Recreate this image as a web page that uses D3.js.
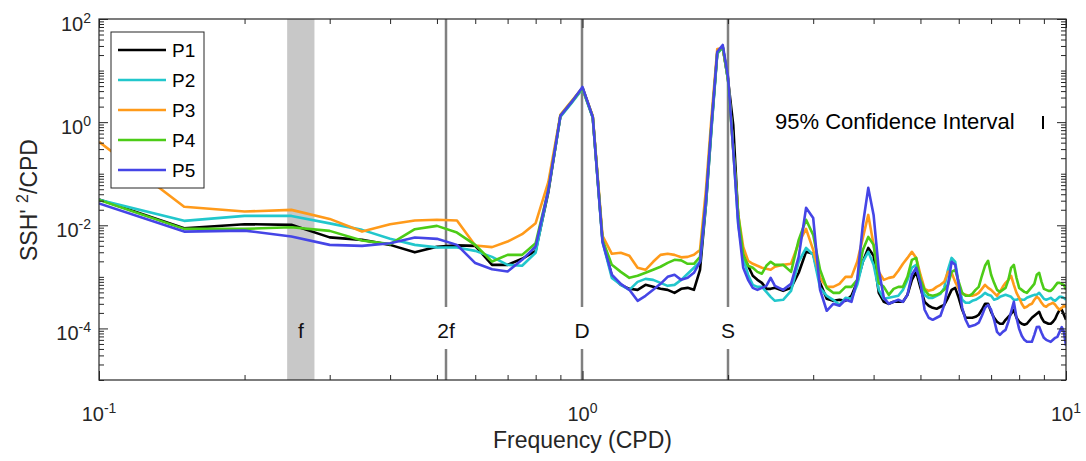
<!DOCTYPE html>
<html><head><meta charset="utf-8">
<script src="https://cdn.jsdelivr.net/npm/d3@7"></script>
<style>body{margin:0;background:#fff}svg{display:block}</style>
</head><body>
<svg id="c" width="1086" height="461"></svg>
<script>
// ---------------- DATA ----------------
const freqs = [0.1,0.15,0.2,0.25,0.3,0.35,0.4,0.45,0.5,0.55,0.6,0.65,0.7,0.75,0.8,0.85,0.9,0.95,1.0,1.05,
1.1,1.15,1.2,1.25,1.3,1.35,1.4,1.45,1.5,1.55,1.6,1.65,1.7,1.75,1.8,1.85,1.9,1.95,2.0,2.05,
2.1,2.15,2.2,2.25,2.3,2.35,2.4,2.45,2.5,
2.6,2.7,2.8,2.9,3.0,3.1,3.2,3.3,3.4,3.5,3.6,3.7,3.8,3.9,4.0,4.1,4.2,4.3,4.4,4.5,
4.6,4.7,4.8,4.9,5.0,5.1,5.2,5.3,5.4,5.5,5.6,5.7,5.8,5.9,6.0,6.1,6.2,6.3,6.4,6.5,
6.6,6.7,6.8,6.9,7.0,7.1,7.2,7.3,7.4,7.5,7.6,7.7,7.8,7.9,8.0,8.1,8.2,8.3,8.4,8.5,
8.6,8.7,8.8,8.9,9.0,9.1,9.2,9.3,9.4,9.5,9.6,9.7,9.8,9.9,10.0];

const p1 = [0.0318,0.00878,0.0105,0.0102,0.00583,0.00522,0.00417,0.00299,0.00382,0.00408,
0.00399,0.00171,0.00171,0.00224,0.00319,0.0444,1.32,2.47,4.6,1.26,
0.00522,0.00105,0.0007,0.000586,0.00056,0.0007,0.00064,0.000586,0.00056,0.00049,
0.000586,0.000612,0.00056,0.00137,0.025,0.883,22,28.7,6.57,0.883,
0.0128,0.00267,0.00164,0.00105,0.000875,0.000765,0.000586,0.000586,0.000612,
0.000536,0.000612,0.0012,0.00306,0.0028,0.000765,0.000375,0.000343,0.000359,0.000343,
0.000429,0.0008,0.00196,0.00365,0.00256,0.00049,0.000328,0.0003,0.000328,0.000328,
0.000328,0.000448,0.000875,0.00125,0.000612,0.000328,0.000275,0.000251,0.00024,0.000263,
0.000287,0.000392,0.00056,0.000612,0.000392,0.00023,0.000161,0.000161,0.000161,0.000168,
0.000184,0.00023,0.0003,0.0003,0.00021,0.000161,0.000135,0.000123,0.000123,0.000147,
0.000168,0.000192,0.00023,0.000161,0.000135,0.000123,0.000118,0.000123,0.000141,0.000161,
0.000176,0.000192,0.00021,0.000161,0.000135,0.000129,0.000123,0.000123,0.000135,0.000154,
0.000192,0.00023,0.00023,0.000184,0.000147];

const p2 = [0.0311,0.0122,0.0152,0.0152,0.0109,0.00815,0.00546,0.00417,0.00373,0.0037,
0.00319,0.00244,0.00171,0.00164,0.00294,0.0486,1.26,2.36,4.4,1.21,
0.00477,0.000956,0.0007,0.00056,0.0008,0.000915,0.000875,0.000765,0.00067,0.0007,
0.000875,0.00115,0.0015,0.00196,0.025,0.807,21,28.7,6.57,0.29,
0.0102,0.00233,0.0011,0.0007,0.00064,0.00064,0.000512,0.00041,0.000343,
0.000359,0.000536,0.00196,0.00365,0.00267,0.000612,0.000429,0.000359,0.000287,0.000392,
0.000375,0.0007,0.00196,0.00306,0.00171,0.00056,0.000375,0.000392,0.00041,0.000429,
0.00056,0.000875,0.0015,0.00171,0.000732,0.000448,0.000392,0.000392,0.000429,0.000469,
0.000612,0.00137,0.00233,0.00196,0.0007,0.000359,0.000314,0.000314,0.000343,0.000359,
0.000392,0.000429,0.00049,0.000448,0.000429,0.000359,0.000375,0.00041,0.000429,0.000448,
0.000429,0.00041,0.000359,0.000359,0.000375,0.000359,0.000359,0.000392,0.00041,0.000429,
0.000448,0.000448,0.00049,0.000429,0.000375,0.000359,0.000375,0.000392,0.000359,0.000343,
0.000375,0.00041,0.00041,0.000392,0.000359];

const p3 = [0.414,0.0228,0.0185,0.0199,0.0133,0.00755,0.0105,0.0124,0.0128,0.0124,
0.00405,0.00377,0.00484,0.00672,0.011,0.0694,1.38,2.58,4.6,1.32,
0.00623,0.0028,0.00294,0.00256,0.0015,0.00137,0.00196,0.00267,0.0028,0.00267,
0.00239,0.00244,0.00267,0.00333,0.0486,1.38,26.3,27.5,7.19,0.29,
0.0159,0.00382,0.00205,0.00179,0.00164,0.0015,0.00143,0.00137,0.00157,
0.00171,0.00179,0.00456,0.00852,0.00333,0.000956,0.00064,0.00064,0.000732,0.001,
0.001,0.00196,0.0057,0.0159,0.00417,0.00125,0.000875,0.000956,0.001,0.00131,
0.00179,0.00233,0.00306,0.00233,0.0011,0.000586,0.000536,0.00056,0.00064,0.0007,
0.0008,0.00125,0.0012,0.0008,0.000586,0.000469,0.000448,0.000429,0.000429,0.000448,
0.00049,0.000586,0.0007,0.000612,0.00056,0.00049,0.000429,0.000512,0.00064,0.000765,
0.000875,0.00105,0.0007,0.00049,0.000392,0.0003,0.000251,0.000263,0.000287,0.0003,
0.000359,0.00041,0.000375,0.000314,0.000275,0.000263,0.000287,0.0003,0.000314,0.000287,
0.000251,0.00023,0.000251,0.000275,0.000263];

const p4 = [0.0311,0.00852,0.00852,0.00919,0.00779,0.00506,0.00431,0.0084,0.00974,0.00722,
0.00417,0.00198,0.00267,0.00267,0.0045,0.0486,1.32,2.47,4.6,1.26,
0.00522,0.00171,0.00125,0.000956,0.00105,0.0012,0.00137,0.00157,0.00187,0.00214,
0.00209,0.00179,0.00179,0.00244,0.0311,1.01,22,28.7,6.87,0.317,
0.0159,0.00267,0.00164,0.0015,0.00125,0.00115,0.00164,0.00196,0.00171,
0.00171,0.00125,0.00522,0.0128,0.00652,0.00137,0.000612,0.00049,0.00049,0.00064,
0.00064,0.000875,0.00333,0.00596,0.00417,0.000765,0.00064,0.000448,0.000586,0.00064,
0.00064,0.001,0.00214,0.00233,0.000875,0.00056,0.000448,0.000429,0.000448,0.00049,
0.00056,0.0007,0.00125,0.00137,0.0008,0.00049,0.000429,0.000429,0.000469,0.00056,
0.00064,0.00105,0.00164,0.00205,0.0011,0.000765,0.00056,0.000512,0.00056,0.000612,
0.000875,0.0015,0.00171,0.000956,0.000612,0.00056,0.000512,0.00049,0.00056,0.00064,
0.000732,0.0011,0.0012,0.0008,0.000586,0.00056,0.000536,0.000536,0.000586,0.00067,
0.000765,0.000765,0.000732,0.0007,0.00056];

const p5 = [0.0266,0.00755,0.00789,0.00604,0.00417,0.00399,0.0045,0.00578,0.00546,0.00417,
0.00185,0.00141,0.00127,0.00214,0.00387,0.0486,1.32,2.47,4.81,1.26,
0.00477,0.0011,0.000732,0.00056,0.000343,0.000429,0.00056,0.000732,0.001,0.0011,
0.000875,0.000956,0.0012,0.00196,0.0311,1.01,23,31.4,7.51,0.29,
0.0102,0.0015,0.000875,0.000612,0.00056,0.000612,0.00067,0.000956,0.00067,
0.00056,0.000732,0.00244,0.0218,0.0139,0.00056,0.00022,0.0003,0.000275,0.000359,
0.000328,0.000875,0.0102,0.0531,0.0159,0.00137,0.000392,0.0003,0.000328,0.000359,
0.000328,0.000448,0.0011,0.0015,0.000765,0.00023,0.000161,0.000147,0.000161,0.000176,
0.000287,0.0007,0.00196,0.00171,0.0007,0.000251,0.000147,0.000108,0.000113,0.000118,
0.000129,0.000176,0.000251,0.000287,0.00023,0.000147,0.0000858,0.0000751,0.0000858,0.0000939,
0.000135,0.00021,0.000328,0.000161,0.0000982,0.0000719,0.0000601,0.000055,0.000055,0.000055,
0.0000751,0.000106,0.000108,0.0000822,0.0000657,0.0000601,0.0000575,0.000055,0.0000601,0.0000657,
0.0000687,0.0000858,0.000106,0.0000858,0.000046];

const seriesNames = ["P1","P2","P3","P4","P5"];
const seriesColors = ["#000000","#22c7cc","#ff9a1a","#4ccc17","#4545e6"];
const seriesValues = [p1,p2,p3,p4,p5];

const fBand = [0.245, 0.279];          // inertial band
const fLabel = "f";
const markerFreqs = [0.522, 1.0, 2.0]; // 2f, D, S
const markerLabels = ["2f","D","S"];
const xMajorTicks = [0.1, 1, 10];
const yMajorTicks = [1e-4, 1e-2, 1, 1e2];
const ciText = "95% Confidence Interval";

// ---------------- DRAW ----------------
const svg = d3.select("#c");
const X0 = 99, X1 = 1066, Y0 = 19, Y1 = 380;
const x = d3.scaleLog().domain([0.1, 10]).range([X0, X1]);
const y = d3.scaleLog().domain([1e-5, 1e2]).range([Y1, Y0]);
const AX = "#262626";
const FONT = "'Liberation Sans', Arial, Helvetica, sans-serif";

svg.append("rect").attr("width",1086).attr("height",461).attr("fill","#fff");

// inertial band
svg.append("rect")
  .attr("x", x(fBand[0])).attr("y", Y0)
  .attr("width", x(fBand[1]) - x(fBand[0])).attr("height", Y1 - Y0)
  .attr("fill", "#c8c8c8");

// marker lines with gap for labels
const gapTop = 307, gapBot = 349, labY = 338;
markerFreqs.forEach((f, i) => {
  const xx = Math.round(x(f));
  svg.append("line").attr("x1",xx).attr("x2",xx).attr("y1",Y0).attr("y2",gapTop)
    .attr("stroke","#808080").attr("stroke-width",2.5);
  svg.append("line").attr("x1",xx).attr("x2",xx).attr("y1",gapBot).attr("y2",Y1)
    .attr("stroke","#808080").attr("stroke-width",2.5);
  svg.append("text").attr("x",xx).attr("y",labY).attr("text-anchor","middle")
    .attr("font-family",FONT).attr("font-size",21).attr("fill","#111").text(markerLabels[i]);
});
svg.append("text").attr("x", x(Math.sqrt(fBand[0]*fBand[1]))).attr("y",labY)
  .attr("text-anchor","middle").attr("font-family",FONT).attr("font-size",21).attr("fill","#111").text(fLabel);

// clip
svg.append("clipPath").attr("id","clip").append("rect")
  .attr("x",X0).attr("y",Y0).attr("width",X1-X0).attr("height",Y1-Y0);

const line = d3.line().x((d,i)=>x(freqs[i])).y(d=>y(d));
const g = svg.append("g").attr("clip-path","url(#clip)");
seriesValues.forEach((vals, k) => {
  g.append("path").datum(vals).attr("d", line)
    .attr("fill","none").attr("stroke",seriesColors[k]).attr("stroke-width",2.6)
    .attr("stroke-linejoin","round");
});

// axes: minor and major ticks, inside
function mkAxis(axisFn, scale, vals, size, tx, ty) {
  const a = axisFn(scale).tickValues(vals).tickSize(-size).tickFormat("");
  const gg = svg.append("g").attr("transform",`translate(${tx},${ty})`).call(a);
  gg.select(".domain").remove();
  gg.selectAll("line").attr("stroke",AX).attr("stroke-width",1);
  return gg;
}
const xMinor = x.ticks().filter(v => !xMajorTicks.some(m => Math.abs(m - v) < 1e-9));
const yAll = y.ticks();
const yMinor = yAll.filter(v => !yMajorTicks.some(m => Math.abs(m/v - 1) < 1e-6));
mkAxis(d3.axisBottom, x, xMinor, 5, 0, Y1);
mkAxis(d3.axisTop, x, xMinor, 5, 0, Y0);
mkAxis(d3.axisBottom, x, xMajorTicks, 9, 0, Y1);
mkAxis(d3.axisTop, x, xMajorTicks, 9, 0, Y0);
mkAxis(d3.axisLeft, y, yMinor, 5, X0, 0);
mkAxis(d3.axisRight, y, yMinor, 5, X1, 0);
mkAxis(d3.axisLeft, y, yMajorTicks, 9, X0, 0);
mkAxis(d3.axisRight, y, yMajorTicks, 9, X1, 0);

// box
svg.append("rect").attr("x",X0).attr("y",Y0).attr("width",X1-X0).attr("height",Y1-Y0)
  .attr("fill","none").attr("stroke",AX).attr("stroke-width",1.2);

// tick labels
function expLabel(sel, v) {
  const e = Math.round(Math.log10(v));
  sel.append("tspan").text("10");
  sel.append("tspan").attr("dy",-8).attr("font-size",14).text(String(e));
}
xMajorTicks.forEach(v => {
  const t = svg.append("text").attr("x", x(v)).attr("y", 421).attr("text-anchor","middle")
    .attr("font-family",FONT).attr("font-size",20).attr("fill",AX);
  expLabel(t, v);
});
yMajorTicks.forEach(v => {
  const t = svg.append("text").attr("x", 91).attr("y", y(v) + 12).attr("text-anchor","end")
    .attr("font-family",FONT).attr("font-size",20).attr("fill",AX);
  expLabel(t, v);
});

// axis labels
svg.append("text").attr("x", x(1)).attr("y", 448).attr("text-anchor","middle")
  .attr("font-family",FONT).attr("font-size",23).attr("fill",AX).text("Frequency (CPD)");
const yl = svg.append("text").attr("transform","translate(37,200) rotate(-90)")
  .attr("text-anchor","middle").attr("font-family",FONT).attr("font-size",23).attr("fill",AX);
yl.append("tspan").text("SSH' ");
yl.append("tspan").attr("dy",-9).attr("font-size",16).text("2");
yl.append("tspan").attr("dy",9).text("/CPD");

// confidence interval
svg.append("text").attr("x",775).attr("y",129).attr("font-family",FONT).attr("font-size",22)
  .attr("fill","#000").text(ciText);
svg.append("line").attr("x1",1043).attr("x2",1043).attr("y1",116).attr("y2",129)
  .attr("stroke","#000").attr("stroke-width",2);

// legend
const lg = svg.append("g");
lg.append("rect").attr("x",111).attr("y",32).attr("width",93).attr("height",156)
  .attr("fill","#fff").attr("stroke",AX).attr("stroke-width",1);
seriesNames.forEach((n, i) => {
  const yy = 50 + i * 30;
  lg.append("line").attr("x1",118).attr("x2",166).attr("y1",yy).attr("y2",yy)
    .attr("stroke",seriesColors[i]).attr("stroke-width",2.6);
  lg.append("text").attr("x",172).attr("y",yy+7).attr("font-family",FONT).attr("font-size",19)
    .attr("fill","#000").text(n);
});
</script>
</body></html>
